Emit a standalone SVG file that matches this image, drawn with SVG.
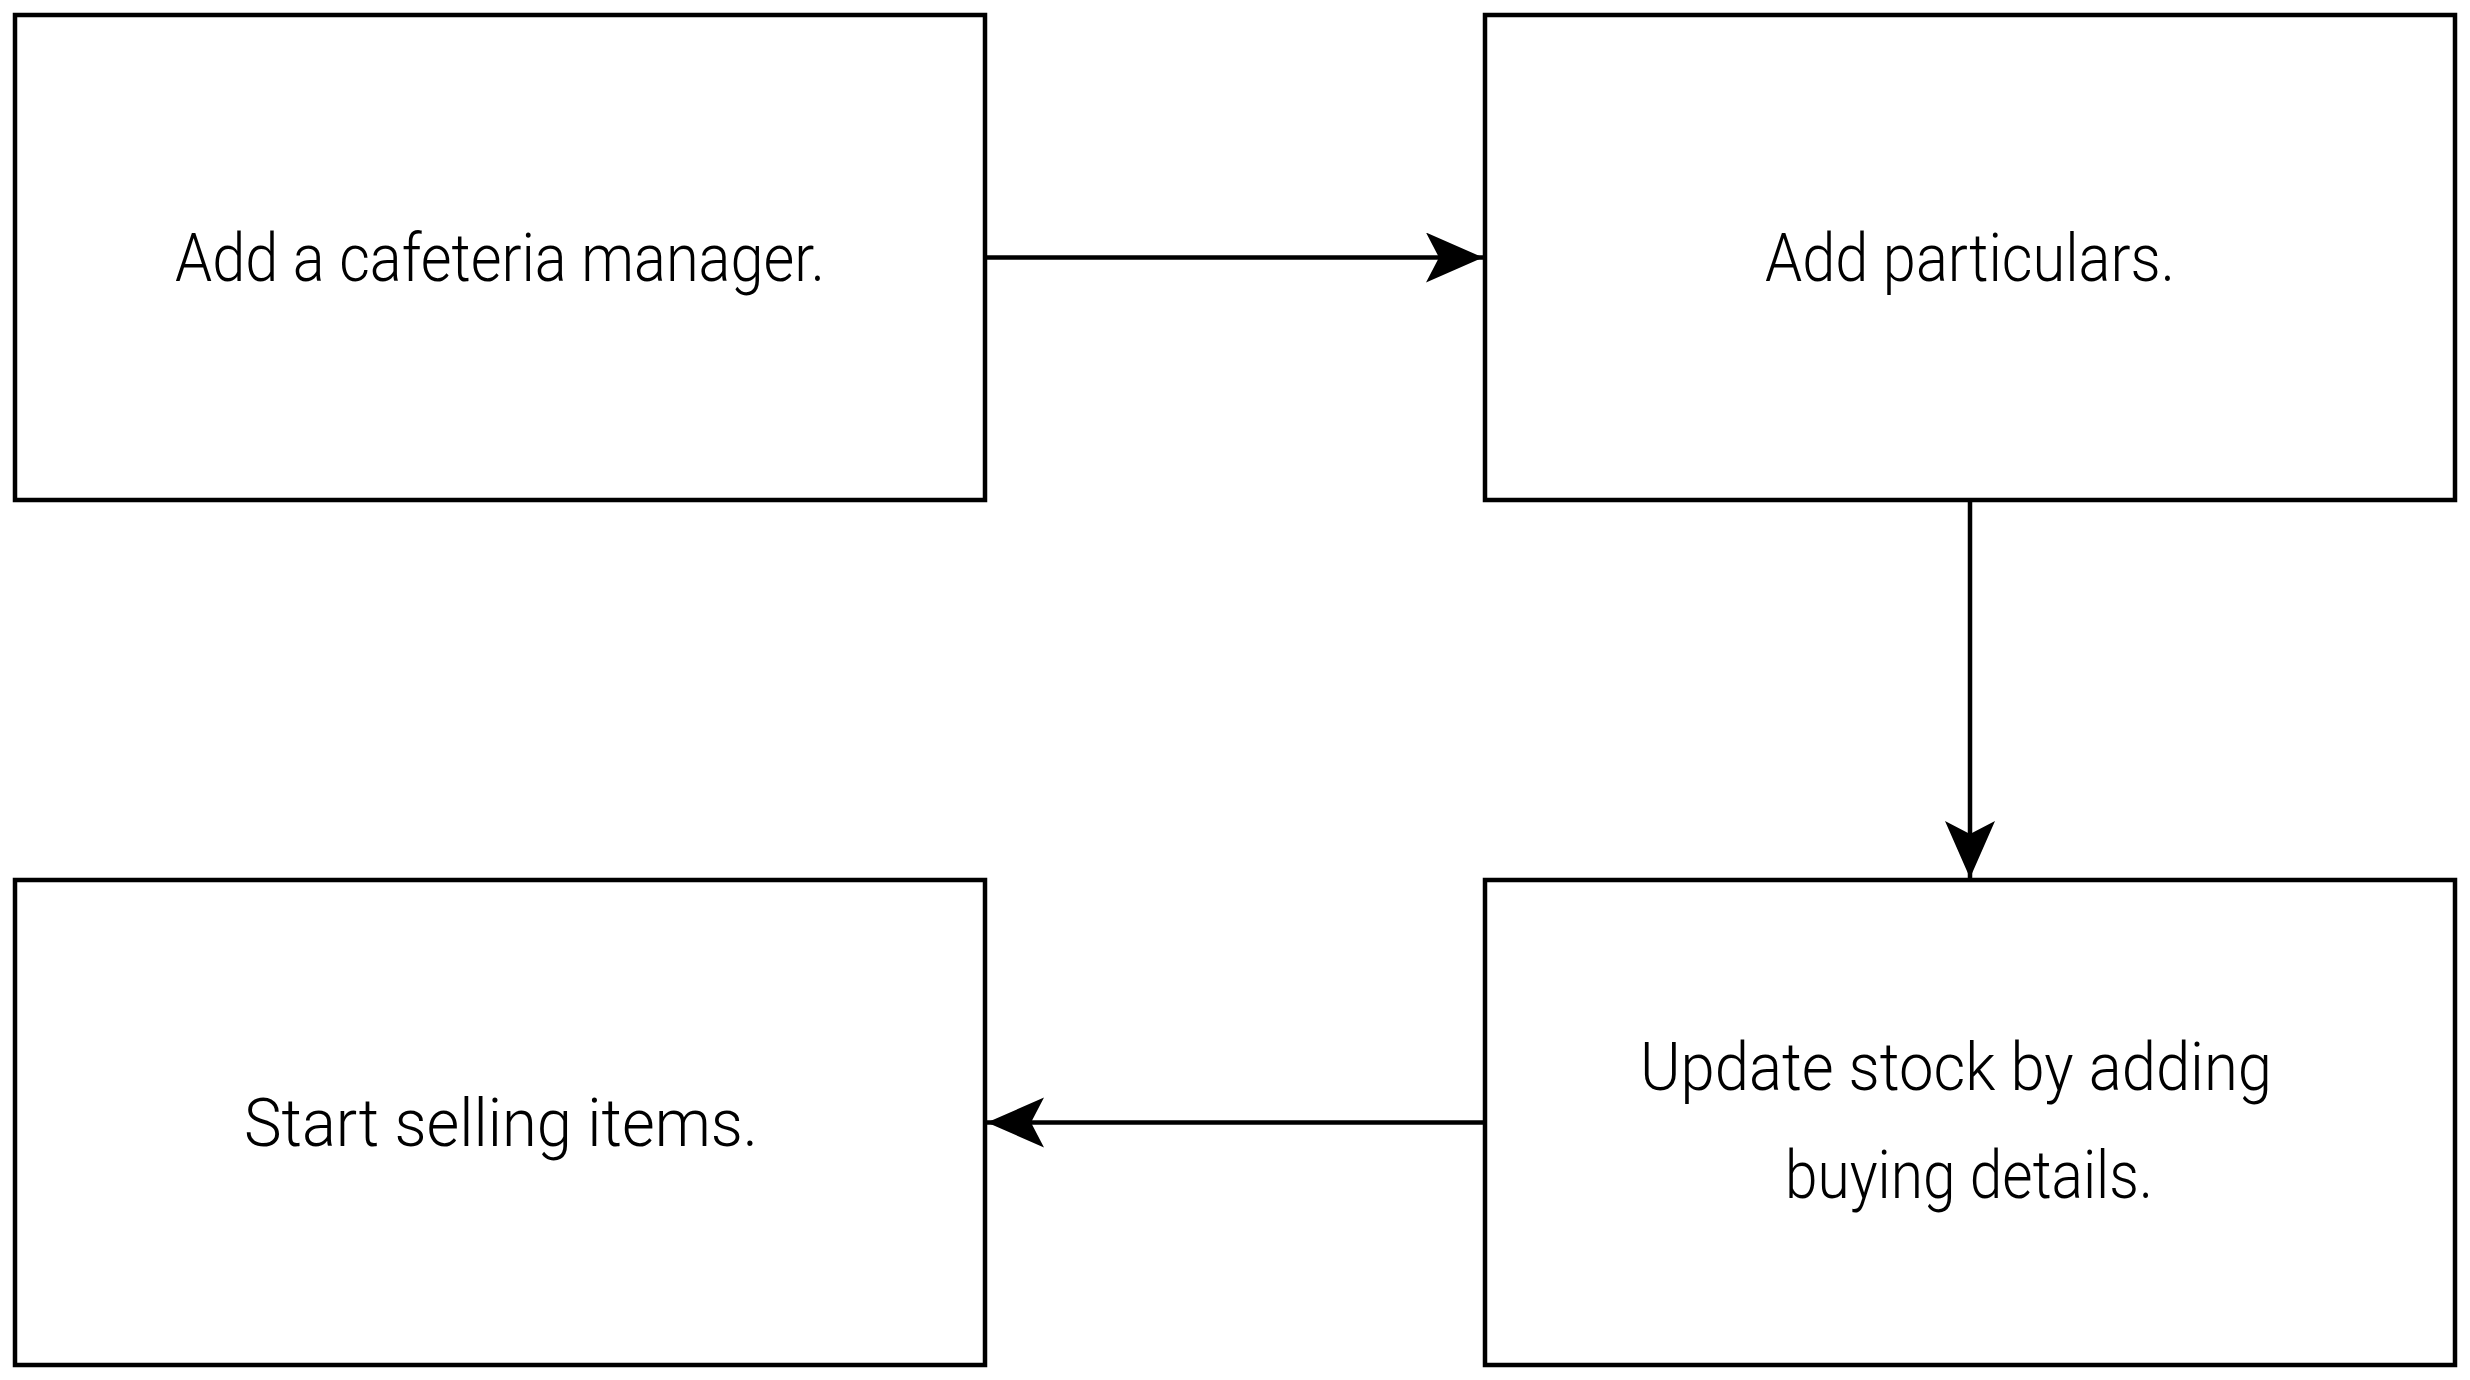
<svg xmlns="http://www.w3.org/2000/svg" width="2470" height="1380" viewBox="0 0 2470 1380">
  <style>
    .box { fill: #ffffff; stroke: #000000; stroke-width: 4.5; }
    .lbl { font-family: Roboto, "Liberation Sans", "DejaVu Sans", sans-serif; font-weight: 300; font-size: 66px; fill: #000000; text-anchor: middle; }
    .edge { fill: none; stroke: #000000; stroke-width: 4.5; }
  </style>
  <defs>
    <marker id="arrow" markerUnits="userSpaceOnUse" markerWidth="60" markerHeight="52" refX="57" refY="25" orient="auto" viewBox="0 0 60 52">
      <path d="M0,0 L57,25 L0,50 L13,25 Z" fill="#000000"/>
    </marker>
  </defs>
  <rect width="2470" height="1380" fill="#ffffff"/>
  <g id="connectors">
    <path class="edge" d="M985,257.5 L1483,257.5" marker-end="url(#arrow)"/>
    <path class="edge" d="M1970,500 L1970,878" marker-end="url(#arrow)"/>
    <path class="edge" d="M1485,1122.5 L987,1122.5" marker-end="url(#arrow)"/>
  </g>
  <g id="node-add-manager">
    <rect class="box" x="15" y="15" width="970" height="485"/>
    <text class="lbl" x="500" y="281" textLength="650" lengthAdjust="spacingAndGlyphs">Add a cafeteria manager.</text>
  </g>
  <g id="node-add-particulars">
    <rect class="box" x="1485" y="15" width="970" height="485"/>
    <text class="lbl" x="1970" y="281" textLength="410" lengthAdjust="spacingAndGlyphs">Add particulars.</text>
  </g>
  <g id="node-update-stock">
    <rect class="box" x="1485" y="880" width="970" height="485"/>
    <text class="lbl" x="1956" y="1090" textLength="632" lengthAdjust="spacingAndGlyphs">Update stock by adding</text>
    <text class="lbl" x="1969" y="1198" textLength="368" lengthAdjust="spacingAndGlyphs">buying details.</text>
  </g>
  <g id="node-start-selling">
    <rect class="box" x="15" y="880" width="970" height="485"/>
    <text class="lbl" x="501" y="1146" textLength="514" lengthAdjust="spacingAndGlyphs">Start selling items.</text>
  </g>
</svg>
